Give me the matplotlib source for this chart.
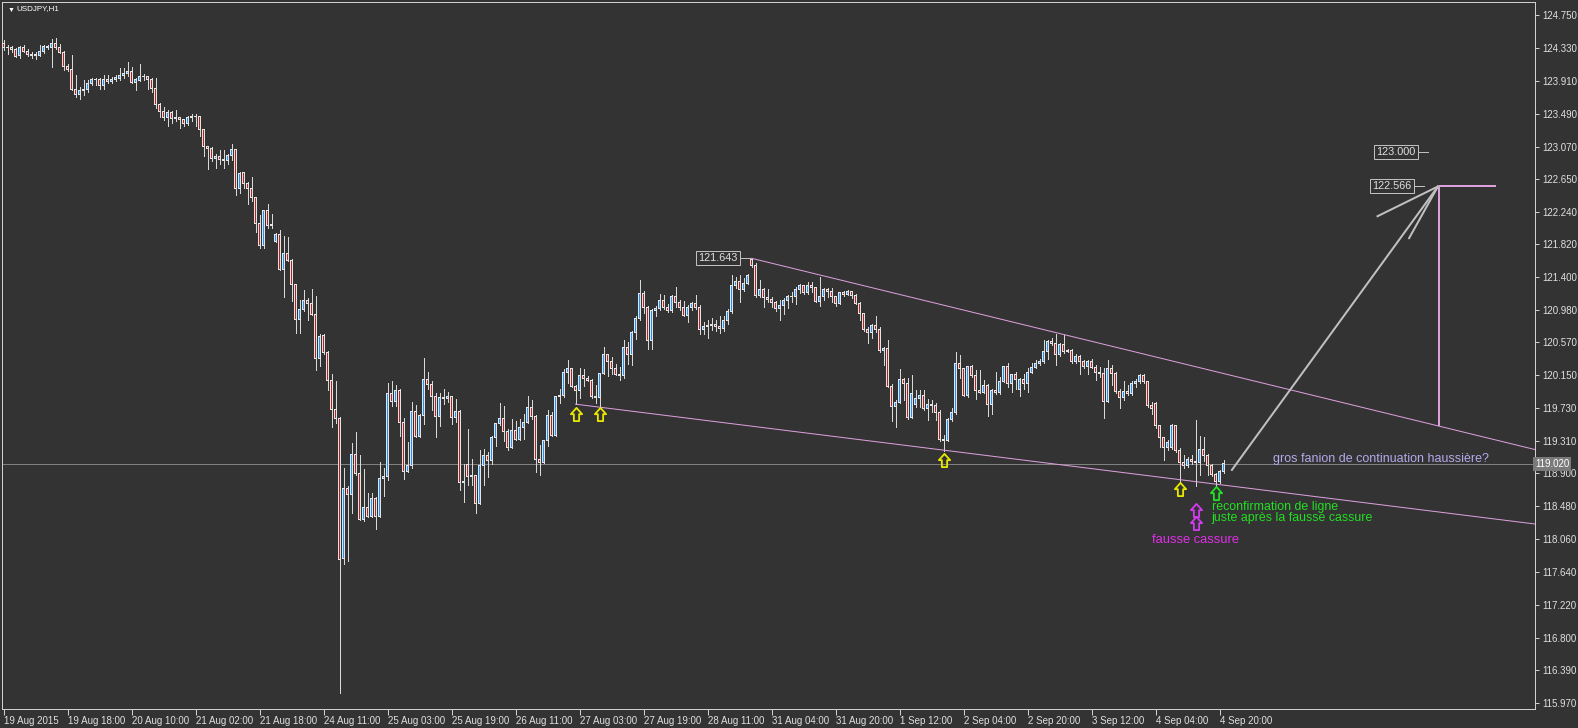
import matplotlib
matplotlib.use("Agg")
import matplotlib.pyplot as plt
from matplotlib.path import Path
import numpy as np

# ---------------- data (USDJPY H1) ----------------
opens = [124.39,124.33,124.34,124.31,124.23,124.33,124.29,124.25,124.23,124.23,124.29,124.35,124.34,124.38,124.33,124.27,124.09,124.05,123.80,123.73,
123.78,123.80,123.88,123.92,123.93,123.85,123.93,123.90,123.93,123.94,123.98,124.00,124.03,123.89,123.91,123.96,123.97,123.93,123.81,123.61,
123.52,123.44,123.51,123.43,123.44,123.41,123.37,123.44,123.46,123.45,123.29,123.07,123.05,122.92,122.94,122.91,122.89,122.95,123.03,122.54,
122.74,122.60,122.54,122.42,122.09,121.80,122.25,122.06,121.86,121.95,121.50,121.71,121.62,121.31,120.86,120.99,121.10,121.07,120.93,120.36,
120.66,120.44,120.08,119.71,119.60,117.81,118.70,118.62,119.14,118.90,118.31,118.46,118.35,118.58,118.34,118.83,118.85,119.92,119.82,119.96,
119.54,118.92,119.00,119.69,119.37,119.64,120.10,120.03,119.88,119.62,119.87,119.85,119.88,119.61,119.69,118.78,119.01,118.85,118.87,118.51,
119.00,119.12,119.06,119.36,119.53,119.60,119.43,119.23,119.45,119.33,119.48,119.55,119.74,119.62,119.07,119.04,119.31,119.63,119.38,119.88,
119.89,120.19,120.23,120.01,119.95,120.15,120.11,120.08,119.88,119.87,120.17,120.41,120.32,120.23,120.16,120.15,120.51,120.42,120.70,120.88,
121.19,121.02,120.59,120.97,121.00,121.11,121.02,120.98,121.15,121.08,121.02,120.91,121.02,121.06,121.02,120.73,120.77,120.79,120.80,120.77,
120.74,120.85,120.96,121.29,121.35,121.25,121.32,121.63,121.55,121.17,121.25,121.14,121.12,121.08,121.00,121.04,121.11,121.15,121.16,121.24,
121.29,121.20,121.29,121.27,121.09,121.15,121.24,121.22,121.15,121.07,121.20,121.18,121.22,121.17,121.07,120.94,120.73,120.69,120.78,120.73,
120.46,120.49,120.01,119.75,119.80,120.09,120.04,119.61,119.78,119.85,119.89,119.73,119.78,119.76,119.67,119.33,119.32,119.58,119.67,120.30,
120.23,119.89,120.26,120.15,119.96,119.93,120.02,119.78,119.96,119.93,120.07,120.26,120.05,120.16,119.97,120.10,120.04,120.19,120.25,120.30,
120.32,120.45,120.58,120.56,120.41,120.54,120.45,120.47,120.32,120.39,120.33,120.26,120.32,120.25,120.19,120.17,119.82,120.23,120.17,119.94,
119.86,119.94,119.92,120.04,120.07,120.15,120.07,119.76,119.79,119.51,119.35,119.23,119.23,119.51,119.19,119.03,119.00,119.07,119.05,119.03,
119.20,119.12,119.00,118.88,118.79,118.92]

highs = [124.43,124.37,124.35,124.33,124.35,124.37,124.31,124.28,124.28,124.37,124.37,124.37,124.44,124.46,124.38,124.29,124.12,124.24,123.98,123.83,
123.92,123.92,123.94,123.94,123.95,123.98,123.98,123.96,123.99,124.07,124.07,124.15,124.09,123.95,124.12,124.00,123.97,123.94,123.94,123.62,
123.58,123.54,123.52,123.54,123.45,123.42,123.46,123.48,123.48,123.45,123.30,123.08,123.06,122.98,123.03,123.03,122.98,123.10,123.04,122.74,
122.75,122.62,122.68,122.43,122.20,122.26,122.34,122.21,121.97,122.00,121.93,121.92,121.64,121.32,121.11,121.24,121.13,121.25,121.16,120.67,
120.67,120.46,120.16,120.07,119.61,118.97,118.74,119.29,119.43,119.13,118.95,118.64,118.65,118.59,119.04,118.96,120.05,120.07,120.02,119.98,
119.60,119.30,119.81,119.77,119.65,120.37,120.19,120.07,119.92,119.92,119.97,119.94,119.88,119.84,119.70,119.02,119.46,119.08,118.88,119.20,
119.21,119.17,119.37,119.54,119.80,119.76,119.46,119.59,119.56,119.59,119.66,119.88,119.83,119.64,119.26,119.32,119.71,119.68,119.88,119.98,
120.23,120.34,120.24,120.03,120.24,120.23,120.14,120.10,120.02,120.18,120.51,120.42,120.38,120.29,120.25,120.60,120.58,120.71,120.90,121.37,
121.22,121.03,120.99,121.03,121.19,121.17,121.06,121.18,121.28,121.11,121.10,121.05,121.08,121.17,121.05,120.83,120.85,120.88,120.85,120.90,
120.91,121.00,121.43,121.41,121.43,121.39,121.44,121.643,121.58,121.36,121.26,121.25,121.15,121.10,121.11,121.14,121.17,121.21,121.28,121.32,
121.30,121.34,121.34,121.27,121.40,121.26,121.26,121.26,121.16,121.21,121.22,121.24,121.23,121.19,121.08,120.95,120.77,120.80,120.90,120.77,
120.51,120.60,120.04,119.83,120.23,120.11,120.12,120.15,119.96,119.96,119.96,119.85,119.83,119.79,119.70,119.39,119.60,119.73,120.44,120.41,
120.24,120.27,120.28,120.22,120.22,120.09,120.04,119.98,120.19,120.13,120.27,120.31,120.17,120.19,120.11,120.17,120.24,120.30,120.34,120.36,
120.60,120.60,120.62,120.68,120.56,120.66,120.49,120.49,120.42,120.41,120.35,120.35,120.36,120.28,120.26,120.24,120.35,120.28,120.19,119.98,
120.07,120.02,120.07,120.10,120.16,120.16,120.08,119.81,119.81,119.52,119.36,119.32,119.53,119.52,119.22,119.13,119.11,119.13,119.58,119.37,
119.36,119.14,119.02,118.90,118.94,119.07]

lows = [124.30,124.25,124.28,124.21,124.20,124.28,124.23,124.20,124.19,124.22,124.27,124.31,124.09,124.32,124.26,124.05,124.04,123.79,123.70,123.68,
123.73,123.77,123.85,123.85,123.80,123.81,123.88,123.88,123.91,123.92,123.94,123.97,123.88,123.79,123.91,123.92,123.80,123.77,123.56,123.45,
123.41,123.33,123.37,123.39,123.31,123.33,123.35,123.40,123.33,123.20,122.95,122.78,122.88,122.80,122.85,122.79,122.85,122.90,122.45,122.48,
122.54,122.33,122.37,121.98,121.78,121.78,122.03,122.03,121.85,121.49,121.15,121.61,121.10,120.69,120.69,120.97,120.85,120.92,120.21,120.27,
120.42,119.96,119.49,119.54,116.09,117.74,117.78,118.39,118.87,118.30,118.29,118.34,118.34,118.19,118.34,118.61,118.81,119.76,119.76,119.37,
118.83,118.91,118.96,119.36,119.36,119.53,119.97,119.70,119.36,119.50,119.78,119.81,119.53,119.55,118.69,118.53,118.75,118.75,118.39,118.50,
118.75,118.85,119.02,119.25,119.52,119.31,119.19,119.22,119.32,119.32,119.34,119.54,119.59,118.92,118.88,119.03,119.24,119.37,119.37,119.79,
119.87,120.05,120.00,119.78,119.86,120.01,120.07,119.86,119.79,119.75,120.16,120.14,120.16,120.15,120.09,120.11,120.29,120.28,120.61,120.86,
120.95,120.48,120.48,120.90,120.98,121.00,120.96,120.96,121.02,120.98,120.90,120.83,120.98,121.00,120.67,120.67,120.62,120.73,120.71,120.69,
120.71,120.81,120.95,121.26,121.09,121.22,121.31,121.53,121.15,121.15,121.02,121.09,121.02,120.97,120.85,120.93,121.01,121.09,121.06,121.20,
121.19,121.19,121.21,121.08,121.04,121.11,121.15,121.09,121.04,121.06,121.16,121.17,121.14,121.06,120.85,120.71,120.56,120.62,120.70,120.45,
120.28,120.00,119.56,119.49,119.79,119.83,119.59,119.60,119.75,119.74,119.70,119.58,119.68,119.58,119.31,119.18,119.31,119.56,119.66,120.12,
119.88,119.87,120.13,119.85,119.92,119.92,119.63,119.65,119.91,119.91,120.06,120.00,119.94,119.98,119.89,119.98,119.94,120.18,120.24,120.28,
120.30,120.36,120.53,120.28,120.39,120.43,120.45,120.30,120.30,120.17,120.24,120.16,120.24,120.09,120.13,119.60,119.81,120.02,119.92,119.73,
119.83,119.90,119.90,120.00,120.05,120.05,119.75,119.66,119.48,119.23,119.07,119.20,119.21,119.17,118.79,118.97,118.98,119.02,118.73,118.88,
119.05,118.88,118.86,118.73,118.77,118.90]

closes = [124.33,124.34,124.31,124.22,124.33,124.29,124.25,124.23,124.24,124.29,124.35,124.34,124.38,124.33,124.27,124.09,124.05,123.80,123.73,123.78,
123.80,123.88,123.92,123.93,123.85,123.93,123.90,123.93,123.95,123.98,124.00,124.03,123.89,123.92,123.96,123.97,123.93,123.81,123.61,123.52,
123.44,123.51,123.43,123.44,123.41,123.37,123.44,123.46,123.45,123.29,123.07,123.05,122.92,122.94,122.91,122.89,122.95,123.03,122.54,122.73,
122.60,122.54,122.42,122.09,121.80,122.25,122.06,122.08,121.95,121.50,121.71,121.62,121.31,120.86,120.99,121.10,121.07,120.93,120.36,120.65,
120.44,120.08,119.71,119.60,117.80,118.70,118.62,119.14,118.90,118.31,118.46,118.35,118.58,118.34,118.83,118.86,119.92,119.82,119.96,119.54,
118.92,119.00,119.69,119.37,119.64,120.10,120.03,119.88,119.62,119.87,119.85,119.88,119.61,119.69,118.78,118.79,118.85,118.87,118.51,119.00,
119.12,119.06,119.36,119.53,119.60,119.43,119.23,119.45,119.33,119.48,119.55,119.74,119.62,119.07,119.04,119.31,119.63,119.38,119.88,119.89,
120.19,120.23,120.01,119.95,120.15,120.11,120.08,119.88,119.87,120.17,120.41,120.32,120.23,120.16,120.15,120.51,120.42,120.70,120.88,121.19,
121.02,120.59,120.97,121.00,121.11,121.02,120.98,121.15,121.08,121.02,120.91,121.02,121.06,121.02,120.73,120.77,120.79,120.80,120.77,120.74,
120.85,120.96,121.29,121.35,121.25,121.32,121.42,121.55,121.17,121.25,121.14,121.12,121.08,121.00,121.04,121.11,121.15,121.16,121.24,121.29,
121.20,121.29,121.27,121.09,121.15,121.24,121.22,121.15,121.07,121.20,121.18,121.22,121.17,121.07,120.94,120.73,120.69,120.78,120.73,120.46,
120.49,120.01,119.75,119.80,120.09,120.04,119.61,119.91,119.85,119.89,119.73,119.78,119.76,119.67,119.33,119.32,119.58,119.67,120.30,120.23,
119.89,120.26,120.15,119.96,119.93,120.02,119.78,119.96,119.93,120.07,120.26,120.05,120.16,120.10,120.10,120.04,120.19,120.25,120.30,120.32,
120.45,120.58,120.56,120.41,120.54,120.45,120.47,120.32,120.39,120.33,120.26,120.32,120.25,120.19,120.17,119.82,120.23,120.17,119.94,119.86,
119.94,119.92,120.04,120.07,120.15,120.07,119.76,119.73,119.51,119.35,119.23,119.29,119.51,119.19,119.03,119.00,119.07,119.05,119.03,119.20,
119.12,119.00,118.88,118.79,118.92,119.02]

time_labels = ["19 Aug 2015", "19 Aug 18:00", "20 Aug 10:00", "21 Aug 02:00", "21 Aug 18:00",
               "24 Aug 11:00", "25 Aug 03:00", "25 Aug 19:00", "26 Aug 11:00", "27 Aug 03:00",
               "27 Aug 19:00", "28 Aug 11:00", "31 Aug 04:00", "31 Aug 20:00", "1 Sep 12:00",
               "2 Sep 04:00", "2 Sep 20:00", "3 Sep 12:00", "4 Sep 04:00", "4 Sep 20:00"]
bars_per_label = 16

price_labels = ["124.750", "124.330", "123.910", "123.490", "123.070", "122.650", "122.240",
                "121.820", "121.400", "120.980", "120.570", "120.150", "119.730", "119.310",
                "118.900", "118.480", "118.060", "117.640", "117.220", "116.800", "116.390", "115.970"]

symbol_title = "USDJPY,H1"
bid_price = 119.020

# drawn objects (bar index, price)
upper_trend = [(187, 121.643), (358.85, 119.50)]
lower_trend = [(143, 119.78), (235, 119.193)]
pole_bar, pole_bottom, pole_top, pole_end = 358.85, 119.50, 122.566, 373.1
fan_start = (307.1, 118.94)
fan_apex = (358.6, 122.56)
fan_wings = [(343.5, 122.18), (351.4, 121.90)]
boxed_prices = [("121.643", 186.6, 121.643), ("123.000", 356.1, 123.000), ("122.566", 355.0, 122.566)]
arrow_marks = [(143, 119.66, "#e8e800"), (149, 119.66, "#e8e800"), (235, 119.07, "#e8e800"),
               (294, 118.70, "#e8e800"), (298, 118.43, "#d03cf0"), (298, 118.26, "#d03cf0"),
               (303, 118.65, "#22e022")]
notes = [("gros fanion de continuation haussière?", 317.35, 119.08, "#b6a8ea", 9.0),
         ("reconfirmation de ligne", 302.1, 118.47, "#22e022", 8.9),
         ("juste après la fausse cassure", 301.85, 118.33, "#22e022", 8.9),
         ("fausse cassure", 287.1, 118.05, "#e030e8", 9.3)]

# ---------------- style ----------------
BG = "#333333"
FG = "#e0e0e0"
WICK = "#d8d8d8"
OUTLINE = "#e4e4e4"
BULL = "#1e90ff"
BEAR = "#b22222"
PLUM = "#dda0dd"
SILVER = "#c0c0c0"
FONT = ["Liberation Sans", "DejaVu Sans"]
PX = 0.72  # one pixel in points at dpi 100

W, H = 1578, 728
fig = plt.figure(figsize=(W / 100, H / 100), dpi=100, facecolor=BG)
ax_l, ax_r, ax_t, ax_b = 2, 1535, 2, 709
ax = fig.add_axes([ax_l / W, (H - ax_b) / H, (ax_r - ax_l) / W, (ax_b - ax_t) / H])
ax.set_facecolor(BG)

ymin, ymax = 115.887, 124.916
xmin = -0.375
xmax = xmin + (ax_r - ax_l) / 4.0
ax.set_xlim(xmin, xmax)
ax.set_ylim(ymin, ymax)
ppx = (ymax - ymin) / (ax_b - ax_t)

o = np.array(opens); h = np.array(highs); l = np.array(lows); c = np.array(closes)
x = np.arange(len(c))

# wicks
ax.vlines(x, l, h, colors=WICK, linewidths=PX, antialiased=False, zorder=3)
top = np.maximum(o, c) + 0.5 * ppx
bot = np.minimum(o, c) - 0.5 * ppx
ax.bar(x, top - bot, bottom=bot, width=0.75, color=OUTLINE, linewidth=0,
       antialiased=False, zorder=4)
inner = (top - bot) > 2.5 * ppx
bull = c > o
for mask, col in [(inner & bull, BULL), (inner & ~bull, BEAR)]:
    ax.bar(x[mask], (top - bot)[mask] - 2 * ppx, bottom=bot[mask] + ppx, width=0.25,
           color=col, linewidth=0, antialiased=False, zorder=5)

# bid line
ax.axhline(bid_price, color="#808080", lw=PX, zorder=2, antialiased=False)

# trend lines (rays to the right edge)
for (x0, y0), (x1, y1) in [upper_trend, lower_trend]:
    s = (y1 - y0) / (x1 - x0)
    ax.plot([x0, xmax], [y0, y0 + s * (xmax - x0)], color=PLUM, lw=PX, zorder=6)

# flag pole projection
ax.plot([pole_bar, pole_bar], [pole_bottom, pole_top], color=PLUM, lw=2 * PX, zorder=6,
        solid_capstyle="butt")
ax.plot([pole_bar, pole_end], [pole_top, pole_top], color=PLUM, lw=2 * PX, zorder=6,
        solid_capstyle="butt")

# hand drawn arrow
ax.plot([fan_start[0], fan_apex[0]], [fan_start[1], fan_apex[1]], color=SILVER, lw=2 * PX, zorder=6)
for wx, wy in fan_wings:
    ax.plot([wx, fan_apex[0]], [wy, fan_apex[1]], color=SILVER, lw=2 * PX, zorder=6)

# boxed price labels
for txt, bx, by in boxed_prices:
    ax.plot([bx - 2.8, bx], [by, by], color=SILVER, lw=PX, zorder=6)
    ax.text(bx - 3.0, by, txt, ha="right", va="center", color=FG, fontsize=7.8, family=FONT,
            zorder=7, bbox=dict(boxstyle="square,pad=0.2", fc=BG, ec=SILVER, lw=PX))

# hollow up-arrow symbols
up_arrow = Path([(0, 1), (-0.85, 0.05), (-0.4, 0.05), (-0.4, -1), (0.4, -1), (0.4, 0.05),
                 (0.85, 0.05), (0, 1)],
                [Path.MOVETO] + [Path.LINETO] * 6 + [Path.CLOSEPOLY])
for ab, ap, col in arrow_marks:
    ax.plot([ab], [ap], marker=up_arrow, markersize=9.5, markerfacecolor="none",
            markeredgecolor=col, markeredgewidth=1.3, linestyle="none", zorder=7)

# notes
for txt, tb, tp, col, fs in notes:
    ax.text(tb, tp, txt, ha="left", va="center", color=col, fontsize=fs, family=FONT, zorder=7)

# title
ax.text(0.0035, 0.993, "\u25bc", transform=ax.transAxes, ha="left", va="top", color="#ffffff",
        fontsize=5, family=FONT)
ax.text(0.0097, 0.995, symbol_title, transform=ax.transAxes, ha="left", va="top", color="#ffffff",
        fontsize=5.8, family=FONT)

# axes
for s in ax.spines.values():
    s.set_color("#d0d0d0")
    s.set_linewidth(PX)
ax.yaxis.tick_right()
yt = [float(v) for v in price_labels]
ax.set_yticks(yt)
ax.set_yticklabels(price_labels, family=FONT, fontsize=7, color=FG)
ax.tick_params(axis="y", direction="out", length=3, width=PX, color="#d0d0d0", pad=2)

xt = [i * bars_per_label for i in range(len(time_labels))]
ax.set_xticks(xt)
ax.set_xticklabels(time_labels, family=FONT, fontsize=7, color=FG, ha="left")
ax.tick_params(axis="x", direction="out", length=4, width=PX, color="#d0d0d0", pad=1)

# bid price label on axis
ax.text(1.0, bid_price, "119.020", transform=ax.get_yaxis_transform(), ha="left", va="center",
        color="#ffffff", fontsize=7, family=FONT, zorder=8,
        bbox=dict(boxstyle="square,pad=0.2", fc="#7a7a7a", ec="#7a7a7a", lw=0))

fig.savefig("out.png", dpi=100, facecolor=BG)
